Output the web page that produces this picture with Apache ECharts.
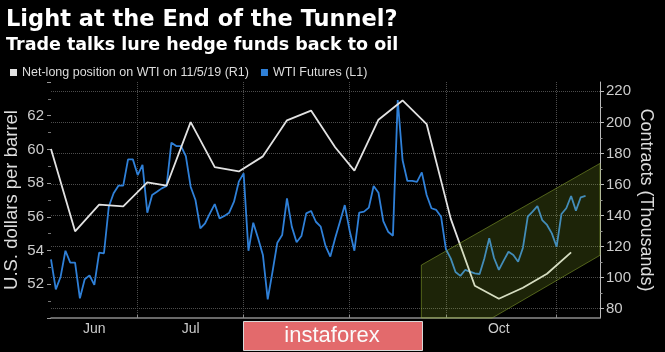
<!DOCTYPE html>
<html>
<head>
<meta charset="utf-8">
<script src="https://cdn.jsdelivr.net/npm/echarts@6/dist/echarts.min.js"></script>
<style>
html, body { margin: 0; padding: 0; background: #000; }
#main { width: 665px; height: 352px; }
</style>
</head>
<body>
<div id="main"></div>
<script>
// trading days on the x axis (exchange closed 4 Jul and 2 Sep)
var firstDay = '2019-06-04', lastDay = '2019-11-13';
var holidays = ['2019-07-04', '2019-09-02'];
var monthEnds = ['2019-06-28', '2019-07-31', '2019-08-30', '2019-09-30', '2019-10-31'];
var monthLabelDays = ['2019-06-17', '2019-07-16', '2019-08-15', '2019-09-16', '2019-10-15'];
var monthNames = ['Jan', 'Feb', 'Mar', 'Apr', 'May', 'Jun', 'Jul', 'Aug', 'Sep', 'Oct', 'Nov', 'Dec'];

// WTI futures, daily, from 4 Jun (L1, $/bbl)
var wti = [
    53.48, 51.70, 52.45, 53.99, 53.28, 53.28, 51.17, 52.30, 52.53, 51.96,
    53.88, 53.84, 56.60, 57.40, 57.85, 57.85, 59.41, 59.41, 58.48, 59.08,
    56.25, 57.30, 57.49, 57.69, 57.83, 60.40, 60.20, 60.20, 59.60, 57.79,
    57.00, 55.32, 55.62, 56.21, 56.76, 55.91, 56.05, 56.25, 56.90, 58.09,
    58.58, 53.99, 55.65, 54.73, 53.74, 51.11, 52.75, 54.47, 54.92, 57.10,
    55.42, 54.49, 54.86, 56.21, 56.35, 55.71, 55.42, 54.28, 53.64, 54.73,
    55.71, 56.70, 55.20, 53.99, 56.25, 56.31, 56.55, 57.83, 57.43, 55.75,
    55.12, 54.88, 62.93, 59.37, 58.13, 58.13, 58.07, 58.64, 57.30, 56.51,
    56.41, 56.01, 54.09, 53.54, 52.73, 52.50, 52.85, 52.75, 52.65, 52.61,
    53.55, 54.73, 53.56, 52.85, 53.40, 53.93, 53.74, 53.34, 54.17, 56.01,
    56.31, 56.64, 55.81, 55.52, 55.02, 54.23, 56.17, 56.51, 57.24, 56.37,
    57.16, 57.24
];

// net-long position, weekly (R1, thousand contracts)
var netLongDates = [
    '2019-06-04', '2019-06-11', '2019-06-18', '2019-06-25', '2019-07-02', '2019-07-09',
    '2019-07-16', '2019-07-23', '2019-07-30', '2019-08-06', '2019-08-13', '2019-08-20',
    '2019-08-27', '2019-09-03', '2019-09-10', '2019-09-17', '2019-09-24', '2019-10-01',
    '2019-10-08', '2019-10-15', '2019-10-22', '2019-10-29', '2019-11-05'
];
var netLong = [
    182.8, 129.8, 147.0, 145.9, 161.3, 159.2,
    200.2, 171.2, 168.4, 178.1, 201.3, 207.6,
    184.0, 168.9, 201.7, 214.1, 198.9, 138.0,
    94.8, 86.4, 93.5, 102.5, 116.3
];

// channel drawn over the last weeks: [day index, $/bbl]
var channel = [[76.9, 53.14], [114, 59.17], [114, 53.72], [91.6, 50], [76.9, 50]];

var rightTicks = [80, 100, 120, 140, 160, 180, 200, 220];
var rightMinorTicks = [90, 110, 130, 150, 170, 190, 210];

var days = [];
for (var t = Date.parse(firstDay); t <= Date.parse(lastDay); t += 864e5) {
    var d = new Date(t), s = d.toISOString().slice(0, 10);
    if (d.getUTCDay() % 6 !== 0 && holidays.indexOf(s) < 0) days.push(s);
}

var netLongData = netLongDates.map(function(day, i) {
    return [day, netLong[i]];
});

var font = 'Liberation Sans';
var titleFont = 'DejaVu Sans';
var gridColor = '#4d4d4d';

function channelPoint(p, api) {
    var i0 = Math.floor(p[0]), f = p[0] - i0;
    var a = api.coord([i0, p[1]]);
    var b = api.coord([i0 + 1, p[1]]);
    return [a[0] + (b[0] - a[0]) * f, a[1]];
}

var myChart = echarts.init(document.getElementById('main'));
var option = {
    backgroundColor: '#000',
    animation: false,
    title: [{
        text: 'Light at the End of the Tunnel?',
        left: 1,
        top: 4,
        textStyle: { color: '#fff', fontSize: 22.5, fontWeight: 'bold', fontFamily: titleFont }
    }, {
        text: 'Trade talks lure hedge funds back to oil',
        left: 1,
        top: 31,
        textStyle: { color: '#fff', fontSize: 17.5, fontWeight: 'bold', fontFamily: titleFont }
    }],
    legend: {
        left: 5,
        top: 61,
        icon: 'rect',
        itemWidth: 7,
        itemHeight: 7,
        itemGap: 12,
        data: ['Net-long position on WTI on 11/5/19 (R1)', 'WTI Futures (L1)'],
        textStyle: { color: '#ddd', fontSize: 12.5, fontFamily: font }
    },
    grid: {
        left: 51,
        right: 65,
        top: 82,
        bottom: 34,
        outerBoundsMode: 'none'
    },
    xAxis: {
        type: 'category',
        data: days,
        boundaryGap: false,
        axisLine: { lineStyle: { color: '#8a8a8a', width: 1.5 } },
        axisTick: {
            inside: true,
            length: 3,
            interval: function(i, v) { return monthEnds.indexOf(v) >= 0; },
            lineStyle: { color: '#8a8a8a' }
        },
        splitLine: {
            show: true,
            interval: function(i, v) { return monthEnds.indexOf(v) >= 0; },
            lineStyle: { color: gridColor, type: 'dotted' }
        },
        axisLabel: {
            interval: function(i, v) { return monthLabelDays.indexOf(v) >= 0; },
            formatter: function(v) { return monthNames[+v.slice(5, 7) - 1]; },
            color: '#ccc',
            fontSize: 14,
            fontFamily: font,
            margin: 4
        }
    },
    yAxis: [{
        type: 'value',
        min: 50,
        max: 64,
        interval: 2,
        name: 'U.S. dollars per barrel',
        nameLocation: 'middle',
        nameGap: 30,
        nameMoveOverlap: false,
        nameTextStyle: { color: '#ddd', fontSize: 18.5, fontFamily: font },
        axisLine: { show: false },
        axisTick: { show: true, length: 4, lineStyle: { color: '#999' } },
        minorTick: { show: true, splitNumber: 2, length: 3, lineStyle: { color: '#777' } },
        splitLine: { show: false },
        axisLabel: {
            showMinLabel: false,
            showMaxLabel: false,
            color: '#ccc',
            fontSize: 15,
            fontFamily: font,
            margin: 7
        }
    }, {
        type: 'value',
        position: 'right',
        min: 74,
        max: 226,
        name: 'Contracts (Thousands)',
        nameLocation: 'middle',
        nameRotate: -90,
        nameGap: 37,
        nameMoveOverlap: false,
        nameTextStyle: { color: '#ddd', fontSize: 18, fontFamily: font },
        axisLine: { show: true, lineStyle: { color: '#bbb' } },
        axisTick: { show: true, length: 4, customValues: rightTicks, lineStyle: { color: '#bbb' } },
        splitLine: { show: true, lineStyle: { color: gridColor, type: 'dotted' } },
        axisLabel: {
            customValues: rightTicks,
            color: '#ccc',
            fontSize: 15,
            fontFamily: font,
            margin: 6
        }
    }, {
        type: 'value',
        position: 'right',
        min: 74,
        max: 226,
        axisLine: { show: false },
        axisTick: { show: true, length: 2.5, customValues: rightMinorTicks, lineStyle: { color: '#999' } },
        splitLine: { show: false },
        axisLabel: { show: false, customValues: rightMinorTicks }
    }],
    series: [{
        name: 'WTI Futures (L1)',
        type: 'line',
        yAxisIndex: 0,
        data: wti,
        symbol: 'none',
        color: '#2f80d8',
        lineStyle: { width: 1.8 }
    }, {
        name: 'Net-long position on WTI on 11/5/19 (R1)',
        type: 'line',
        yAxisIndex: 1,
        data: netLongData,
        symbol: 'none',
        color: '#e2e2e2',
        lineStyle: { width: 1.8 }
    }, {
        type: 'custom',
        xAxisIndex: 0,
        yAxisIndex: 0,
        z: 5,
        silent: true,
        data: [[0, 50]],
        renderItem: function(params, api) {
            var pts = channel.map(function(p) { return channelPoint(p, api); });
            return {
                type: 'polygon',
                shape: { points: pts },
                style: {
                    fill: 'rgba(160, 200, 45, 0.18)',
                    stroke: 'rgba(150, 180, 50, 0.5)',
                    lineWidth: 1
                }
            };
        }
    }],
    graphic: [{
        type: 'rect',
        left: 243,
        top: 321,
        z: 100,
        shape: { width: 179, height: 29 },
        style: { fill: '#e36a6c', stroke: '#d8d8d8', lineWidth: 1 }
    }, {
        type: 'text',
        x: 332,
        y: 336,
        z: 101,
        style: {
            text: 'instaforex',
            fill: '#fafafa',
            font: '22px "Liberation Sans"',
            align: 'center',
            verticalAlign: 'middle'
        }
    }]
};
myChart.setOption(option);
</script>
</body>
</html>
